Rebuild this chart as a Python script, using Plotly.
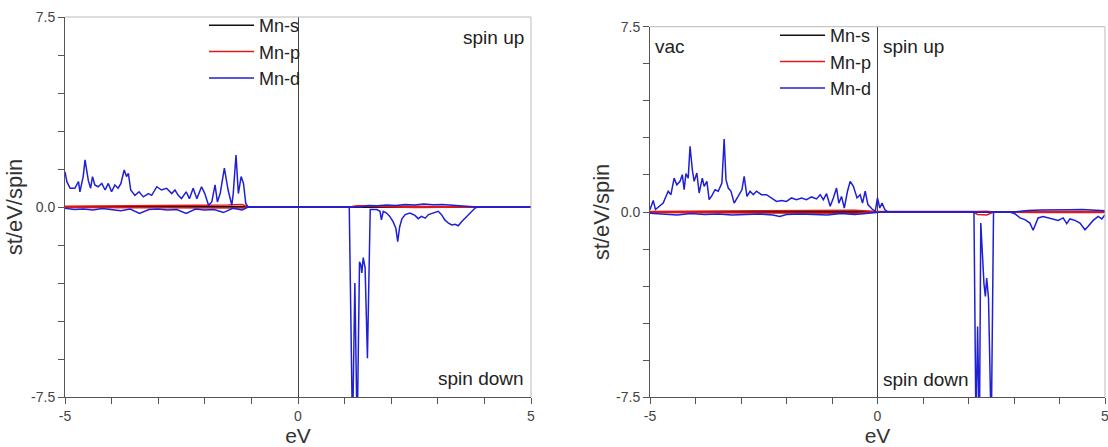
import plotly.graph_objects as go

# ---------------- data: left panel ----------------
L_d_up_E = [-5.0, -4.96, -4.89, -4.79, -4.71, -4.68, -4.61, -4.57, -4.50, -4.45, -4.41, -4.36, -4.29, -4.21,
            -4.14, -4.07, -4.00, -3.93, -3.86, -3.80, -3.73, -3.68, -3.64, -3.59, -3.50, -3.41, -3.32, -3.21,
            -3.14, -3.03, -2.93, -2.82, -2.71, -2.64, -2.57, -2.50, -2.40, -2.33, -2.25, -2.17, -2.07, -2.00,
            -1.92, -1.85, -1.78, -1.73, -1.67, -1.58, -1.50, -1.42, -1.39, -1.33, -1.28, -1.22, -1.17, -1.12,
            -1.07, 1.37, 1.5, 1.7, 1.9, 2.1, 2.3, 2.5, 2.7, 2.9, 3.1, 3.3, 3.5, 3.7, 3.83, 5.0]
L_d_up = [1.39, 1.0, 0.74, 0.74, 1.0, 0.6, 1.2, 1.86, 1.05, 0.74, 1.2, 0.87, 0.8, 0.93,
          0.67, 0.93, 0.6, 0.87, 0.74, 0.93, 1.46, 1.2, 1.33, 0.67, 0.46, 0.6, 0.4, 0.53,
          0.46, 0.8, 0.67, 0.74, 0.53, 0.67, 0.46, 0.33, 0.6, 0.33, 0.74, 0.33, 0.8, 0.53,
          0.07, 0.2, 0.87, 0.2, 0.53, 1.53, 0.67, 0.07, 0.53, 2.05, 0.53, 1.2, 0.93, 0.13,
          0.0, 0.0, 0.06, 0.05, 0.08, 0.06, 0.1, 0.08, 0.12, 0.09, 0.1, 0.08, 0.06, 0.04, 0.0, 0.0]

L_d_dn_E = [-5.0, -4.8, -4.6, -4.4, -4.2, -4.0, -3.8, -3.6, -3.4, -3.2, -3.0, -2.8, -2.6, -2.4, -2.2,
            -2.0, -1.8, -1.6, -1.4, -1.2, -1.07,
            1.10, 1.17, 1.22, 1.27, 1.32, 1.35, 1.37, 1.40, 1.44, 1.47, 1.49, 1.52, 1.55,
            1.58, 1.69, 1.76, 1.79, 1.83, 1.90, 1.97, 2.04, 2.10, 2.14, 2.18, 2.23, 2.30, 2.40, 2.51,
            2.58, 2.65, 2.73, 2.80, 2.90, 3.01, 3.08, 3.15, 3.23, 3.30, 3.37, 3.44, 3.51, 3.58, 3.69,
            3.80, 3.85, 5.0]
L_d_dn = [-0.05, -0.1, -0.08, -0.12, -0.06, -0.1, -0.15, -0.08, -0.25, -0.1, -0.08, -0.12, -0.1, -0.25, -0.08,
          -0.12, -0.1, -0.22, -0.05, -0.12, 0.0,
          0.0, -9.0, -3.0, -9.0, -2.16, -2.3, -2.6, -2.0, -2.4, -4.5, -5.97, -3.0, -0.1,
          -0.1, -0.1, -0.17, -0.51, -0.17, -0.24, -0.37, -0.58, -0.84, -1.37, -0.8, -0.47, -0.3, -0.24, -0.33,
          -0.46, -0.37, -0.44, -0.3, -0.24, -0.17, -0.3, -0.51, -0.64, -0.71, -0.68, -0.74, -0.58, -0.44, -0.24,
          -0.04, 0.0, 0.0]

L_p_E = [-5.0, -4.0, -3.0, -2.0, -1.5, -1.2, -1.07, 1.1, 1.3, 1.55, 2.5, 3.8, 5.0]
L_p_up = [0.03, 0.04, 0.05, 0.05, 0.08, 0.1, 0.0, 0.0, 0.05, 0.05, 0.02, 0.0, 0.0]
L_p_dn = [-0.02, -0.03, -0.04, -0.03, -0.05, -0.04, 0.0, 0.0, 0.04, 0.03, -0.02, 0.0, 0.0]

L_s_E = [-5.0, -2.0, 0.0, 2.0, 5.0]
L_s_up = [0.01, 0.01, 0.0, 0.0, 0.0]
L_s_dn = [-0.01, -0.01, 0.0, 0.0, 0.0]

# ---------------- data: right panel (vac) ----------------
R_d_up_E = [-5.0, -4.93, -4.88, -4.82, -4.71, -4.60, -4.54, -4.47, -4.41, -4.34, -4.29, -4.25, -4.21, -4.16,
            -4.12, -4.07, -4.03, -3.97, -3.92, -3.85, -3.81, -3.75, -3.70, -3.64, -3.57, -3.50, -3.42, -3.37,
            -3.33, -3.28, -3.22, -3.15, -3.07, -2.98, -2.93, -2.87, -2.80, -2.73, -2.66, -2.55, -2.44, -2.33,
            -2.22, -2.11, -2.00, -1.89, -1.78, -1.67, -1.56, -1.45, -1.34, -1.26, -1.19, -1.12, -1.04, -0.97,
            -0.90, -0.85, -0.79, -0.73, -0.66, -0.60, -0.53, -0.45, -0.38, -0.33, -0.27, -0.21, -0.12, -0.05,
            0.0, 0.05, 0.10, 0.16, 0.23, 3.0, 3.3, 3.6, 3.9, 4.2, 4.5, 4.8, 5.0]
R_d_up = [0.09, 0.47, 0.1, 0.2, 0.36, 0.84, 0.7, 1.37, 1.1, 1.24, 1.51, 0.9, 1.55, 1.37,
          2.66, 1.71, 1.24, 1.58, 0.77, 1.37, 1.04, 1.24, 0.5, 0.66, 0.9, 0.84, 1.17, 2.95,
          1.31, 0.97, 0.84, 0.36, 0.63, 0.9, 1.44, 0.63, 0.84, 0.7, 0.84, 0.7, 0.7, 0.57,
          0.43, 0.47, 0.43, 0.57, 0.5, 0.57, 0.5, 0.61, 0.53, 0.7, 0.5, 0.74, 0.23, 0.57,
          0.97, 0.36, 0.63, 0.16, 0.84, 1.24, 1.04, 0.57, 0.7, 0.36, 0.84, 0.3, 0.12, 0.03,
          0.57, 0.16, 0.36, 0.1, 0.0, 0.0, 0.06, 0.08, 0.1, 0.09, 0.1, 0.07, 0.05]

R_d_dn_E = [-5.0, -4.7, -4.4, -4.1, -3.8, -3.5, -3.2, -2.9, -2.6, -2.3, -2.15, -2.0, -1.7, -1.4, -1.1,
            -0.8, -0.5, -0.2, 0.1,
            2.12, 2.165, 2.20, 2.24, 2.27, 2.31, 2.34, 2.37, 2.40, 2.44, 2.47, 2.50, 2.55,
            2.91, 3.02, 3.13, 3.24, 3.35, 3.42, 3.48, 3.53, 3.64, 3.75, 3.86, 3.97, 4.08, 4.16, 4.23,
            4.34, 4.45, 4.56, 4.63, 4.74, 4.85, 4.93, 5.0]
R_d_dn = [-0.05, -0.08, -0.12, -0.06, -0.1, -0.08, -0.12, -0.1, -0.08, -0.12, -0.18, -0.1, -0.08, -0.1, -0.12,
          -0.06, -0.1, -0.05, 0.0,
          0.0, -9.0, -4.63, -9.0, -0.45, -2.2, -2.9, -3.42, -2.67, -3.5, -5.98, -9.0, 0.0,
          0.0, -0.07, -0.24, -0.31, -0.45, -0.74, -0.47, -0.24, -0.18, -0.24, -0.31, -0.34, -0.24, -0.47, -0.28,
          -0.34, -0.45, -0.72, -0.58, -0.34, -0.18, -0.28, -0.11]

R_p_E = [-5.0, -4.0, -3.0, -2.0, -1.0, -0.5, 0.0, 2.1, 2.2, 2.4, 2.55, 3.5, 5.0]
R_p_up = [0.02, 0.03, 0.04, 0.04, 0.05, 0.07, 0.02, 0.0, 0.02, 0.03, 0.0, 0.02, 0.02]
R_p_dn = [-0.02, -0.03, -0.03, -0.04, -0.04, -0.05, 0.0, 0.0, -0.1, -0.12, 0.0, -0.02, -0.02]

R_s_E = [-5.0, -2.0, 0.0, 2.0, 5.0]
R_s_up = [0.01, 0.01, 0.0, 0.0, 0.0]
R_s_dn = [-0.01, -0.01, 0.0, 0.0, 0.0]

series_names = ["Mn-s", "Mn-p", "Mn-d"]
series_colors = ["#111111", "#e01818", "#1f1fd6"]

x_tickvals = [-5, -4, -3, -2, -1, 0, 1, 2, 3, 4, 5]
x_ticktext = ["-5", "", "", "", "", "0", "", "", "", "", "5"]
y_tickvals = [-7.5, -6, -4.5, -3, -1.5, 0, 1.5, 3, 4.5, 6, 7.5]
y_ticktext = ["-7.5", "", "", "", "", "0.0", "", "", "", "", "7.5"]

W, H = 1108, 447
FONT = "Liberation Sans, Arial, sans-serif"

fig = go.Figure()

panels = [
    ("x", "y", "legend",
     [(L_s_E, L_s_up, L_s_E, L_s_dn), (L_p_E, L_p_up, L_p_E, L_p_dn), (L_d_up_E, L_d_up, L_d_dn_E, L_d_dn)]),
    ("x2", "y2", "legend2",
     [(R_s_E, R_s_up, R_s_E, R_s_dn), (R_p_E, R_p_up, R_p_E, R_p_dn), (R_d_up_E, R_d_up, R_d_dn_E, R_d_dn)]),
]

for xa, ya, lg, sets in panels:
    for (name, color, (eu, vu, ed, vd)) in zip(series_names, series_colors, sets):
        fig.add_trace(go.Scatter(x=eu, y=vu, mode="lines", name=name, legend=lg,
                                 line=dict(color=color, width=1.5), xaxis=xa, yaxis=ya,
                                 showlegend=True))
        fig.add_trace(go.Scatter(x=ed, y=vd, mode="lines", name=name, legend=lg,
                                 line=dict(color=color, width=1.5), xaxis=xa, yaxis=ya,
                                 showlegend=False))


def px_x(p):
    return p / W


def px_y(p):
    return 1 - p / H


axis_common = dict(showgrid=False, showline=True, linecolor="#555555", linewidth=1,
                   ticks="outside", ticklen=6, tickcolor="#555555", tickwidth=1,
                   tickfont=dict(family=FONT, size=14, color="#444444"),
                   ticklabeloverflow="allow",
                   zeroline=True, zerolinecolor="#444444", zerolinewidth=1, automargin=False)

fig.update_layout(
    width=W, height=H,
    margin=dict(l=0, r=0, t=0, b=0),
    paper_bgcolor="white", plot_bgcolor="white",
    font=dict(family=FONT, color="#333333"),
    xaxis=dict(domain=[px_x(65), px_x(531)], range=[-5, 5], tickvals=x_tickvals, ticktext=x_ticktext,
               anchor="y", title=dict(text="eV", font=dict(size=21, color="#333333"), standoff=2),
               **axis_common),
    yaxis=dict(domain=[px_y(397), px_y(17)], range=[-7.5, 7.5], tickvals=y_tickvals, ticktext=y_ticktext,
               anchor="x", title=dict(text="st/eV/spin", font=dict(size=22, color="#333333"), standoff=2),
               **axis_common),
    xaxis2=dict(domain=[px_x(650), px_x(1105)], range=[-5, 5], tickvals=x_tickvals, ticktext=x_ticktext,
                anchor="y2", title=dict(text="eV", font=dict(size=21, color="#333333"), standoff=2),
                **axis_common),
    yaxis2=dict(domain=[px_y(397.3), px_y(26.7)], range=[-7.5, 7.5], tickvals=y_tickvals, ticktext=y_ticktext,
                anchor="x2", title=dict(text="st/eV/spin", font=dict(size=22, color="#333333"), standoff=0),
                **axis_common),
    legend=dict(x=px_x(204), y=px_y(7), xanchor="left", yanchor="top", bgcolor="rgba(0,0,0,0)",
                font=dict(family=FONT, size=18, color="#222222"), itemwidth=45, tracegroupgap=0),
    legend2=dict(x=px_x(775), y=px_y(17), xanchor="left", yanchor="top", bgcolor="rgba(0,0,0,0)",
                 font=dict(family=FONT, size=18, color="#222222"), itemwidth=45, tracegroupgap=0),
    showlegend=True,
)

# light frame on top / right
for xd, yd in [("x domain", "y domain"), ("x2 domain", "y2 domain")]:
    fig.add_shape(type="line", xref=xd, yref=yd, x0=0, x1=1, y0=1, y1=1,
                  line=dict(color="#bbbbbb", width=1))
    fig.add_shape(type="line", xref=xd, yref=yd, x0=1, x1=1, y0=0, y1=1,
                  line=dict(color="#bbbbbb", width=1))

ann_font = dict(family=FONT, size=19, color="#222222")
fig.add_annotation(text="spin up", xref="x", yref="y", x=5, y=7.5, xanchor="right", yanchor="top",
                   xshift=-5, yshift=-8, showarrow=False, font=ann_font)
fig.add_annotation(text="spin down", xref="x", yref="y", x=5, y=-7.5, xanchor="right", yanchor="bottom",
                   xshift=-5, yshift=6, showarrow=False, font=ann_font)
fig.add_annotation(text="vac", xref="x2", yref="y2", x=-5, y=7.5, xanchor="left", yanchor="top",
                   xshift=3, yshift=-7, showarrow=False, font=ann_font)
fig.add_annotation(text="spin up", xref="x2", yref="y2", x=0, y=7.5, xanchor="left", yanchor="top",
                   xshift=3, yshift=-7, showarrow=False, font=ann_font)
fig.add_annotation(text="spin down", xref="x2", yref="y2", x=0, y=-7.5, xanchor="left", yanchor="bottom",
                   xshift=3, yshift=5, showarrow=False, font=ann_font)

fig.write_html("out.html", config={"displayModeBar": False},
               post_script="document.body.style.margin='0';document.body.style.overflow='hidden';")
